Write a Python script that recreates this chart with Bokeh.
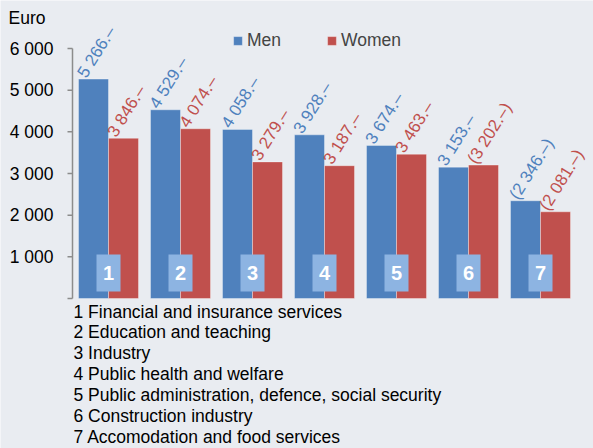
import math
from bokeh.plotting import figure
from bokeh.models import ColumnDataSource, Legend, LegendItem
from bokeh.core.properties import value
from bokeh.embed import file_html
from bokeh.resources import INLINE

# ---- data ----
groups = [1, 2, 3, 4, 5, 6, 7]
names = ["Financial and insurance services", "Education and teaching", "Industry",
         "Public health and welfare", "Public administration, defence, social security",
         "Construction industry", "Accomodation and food services"]
men = [5266, 4529, 4058, 3928, 3674, 3153, 2346]
women = [3846, 4074, 3279, 3187, 3463, 3202, 2081]
men_paren = [False, False, False, False, False, False, True]
women_paren = [False, False, False, False, False, True, True]
y_ticks = [0, 1000, 2000, 3000, 4000, 5000, 6000]
y_unit = "Euro"

FONT = "Liberation Sans"
BG = "#E9ECF1"
BLUE = "#4F81BD"
RED = "#C0504D"
BOX = "#8DB4E2"
AXIS = "#8C8C8C"

def fmt(v, paren):
    s = f"{v:,}".replace(",", " ") + ".\u2013"
    return f"({s})" if paren else s

W, H = 593, 448
FL, FB = 72, 298            # plot-area left / bottom in canvas px
CAT_PX = 72                 # px per category
BW = 0.4167
upp = 6000 / 250            # data units per px (vertical)

def px_to_x(px):
    return 0.5 + (px - FL) / CAT_PX

def py_to_y(py):
    return (FB - py) * upp

p = figure(width=W, height=H, x_range=(px_to_x(0), px_to_x(W)),
           y_range=(py_to_y(H), py_to_y(0)),
           output_backend="svg", toolbar_location=None,
           min_border_left=0, min_border_right=0, min_border_top=0, min_border_bottom=0)
p.background_fill_color = BG
p.border_fill_color = BG
p.outline_line_color = None
p.grid.visible = False
p.axis.visible = False

# ---- value axis (drawn in data space from y_ticks) ----
p.segment(x0=px_to_x(FL), y0=y_ticks[0], x1=px_to_x(FL), y1=y_ticks[-1],
          line_color=AXIS, line_width=1.5)
p.segment(x0=[px_to_x(FL - 5)] * len(y_ticks), y0=y_ticks,
          x1=[px_to_x(FL)] * len(y_ticks), y1=y_ticks,
          line_color=AXIS, line_width=1.5)
tick_labels = [f"{t:,}".replace(",", " ") for t in y_ticks[1:]]
p.text(x=[px_to_x(53)] * len(tick_labels), y=y_ticks[1:], text=tick_labels,
       text_font=value(FONT), text_font_size="17.5px", text_color="black",
       text_align="right", text_baseline="middle")
p.text(x=[px_to_x(8)], y=[py_to_y(17)], text=[y_unit],
       text_font=value(FONT), text_font_size="17.5px", text_color="black",
       text_align="left", text_baseline="middle")

src = ColumnDataSource(dict(
    g=groups,
    xm=[g - BW / 2 for g in groups],
    xw=[g + BW / 2 for g in groups],
    lm=[g - BW for g in groups],
    lw=[g for g in groups],
    men=men, women=women,
    tm=[fmt(v, f) for v, f in zip(men, men_paren)],
    tw=[fmt(v, f) for v, f in zip(women, women_paren)],
    num=[str(g) for g in groups],
))

rm = p.vbar(x="xm", top="men", width=BW, source=src, fill_color=BLUE,
            line_color="white", line_alpha=0.35, line_width=1)
rw = p.vbar(x="xw", top="women", width=BW, source=src, fill_color=RED,
            line_color="white", line_alpha=0.35, line_width=1)

ang = math.radians(58)
p.text(x="lm", y="men", text="tm", source=src, angle=ang, x_offset=3, y_offset=-3,
       text_font=value(FONT), text_font_size="17px", text_color=BLUE,
       text_align="left", text_baseline="alphabetic")
p.text(x="lw", y="women", text="tw", source=src, angle=ang, x_offset=3, y_offset=-3,
       text_font=value(FONT), text_font_size="17px", text_color=RED,
       text_align="left", text_baseline="alphabetic")

# number boxes
box_bottom = py_to_y(291)
box_top = py_to_y(254)
p.rect(x="g", y=(box_bottom + box_top) / 2, width=1 / 3, height=box_top - box_bottom,
       source=src, fill_color=BOX, line_color=None)
p.text(x="g", y=(box_bottom + box_top) / 2, text="num", source=src,
       text_font=value(FONT), text_font_size="20px", text_font_style="bold",
       text_color="white", text_align="center", text_baseline="middle")

# category key below the chart
key_text = [f"{g} {n}" for g, n in zip(groups, names)]
p.text(x=[px_to_x(73)] * len(key_text),
       y=[py_to_y(311 + i * 20.9) for i in range(len(key_text))],
       text=key_text, text_font=value(FONT), text_font_size="17.5px",
       text_color="black", text_align="left", text_baseline="middle")

legend = Legend(items=[LegendItem(label="Men", renderers=[rm]),
                       LegendItem(label="Women", renderers=[rw])],
                orientation="horizontal", location=(232, H - 51),
                label_text_font=FONT, label_text_font_size="17.5px",
                glyph_width=11, glyph_height=11, label_standoff=4, spacing=45,
                padding=0, margin=0, border_line_color=None,
                background_fill_alpha=0)
p.add_layout(legend, "center")

open("out.html", "w").write(file_html(p, INLINE))
